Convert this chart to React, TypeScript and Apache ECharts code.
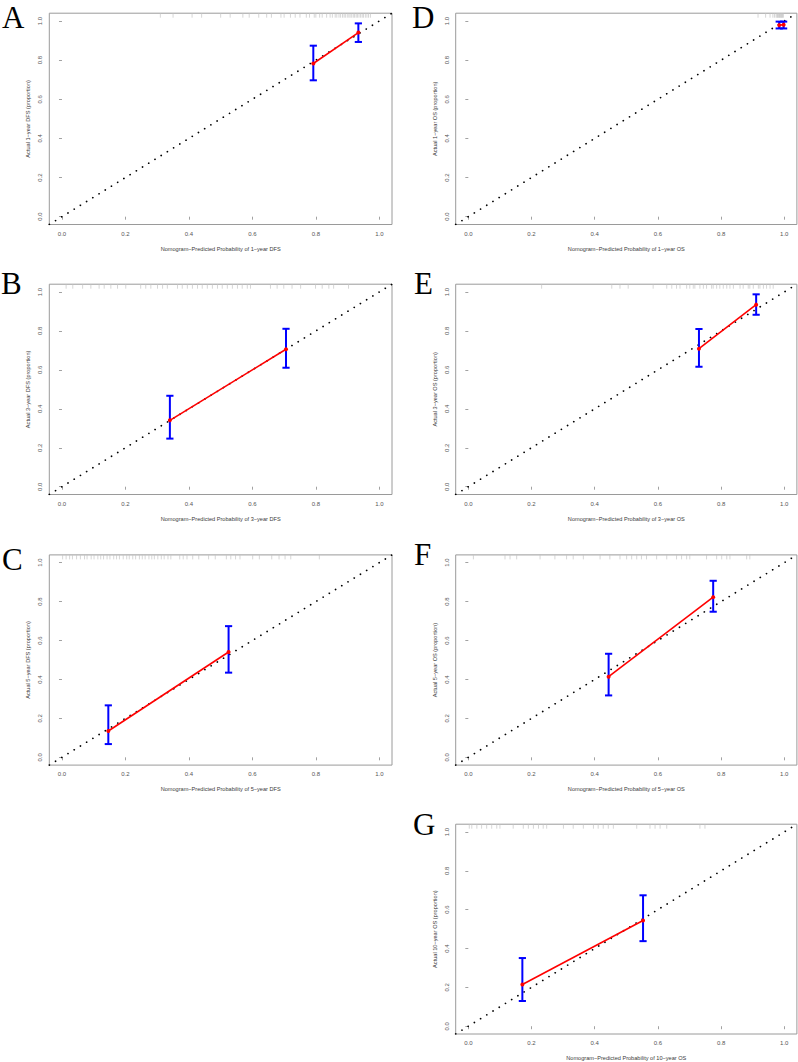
import React, { useEffect, useRef } from "react";
import * as echarts from "echarts";

// ---------- data ----------
const tickValues = [0, 0.2, 0.4, 0.6, 0.8, 1.0];
const axisMin = -0.04;
const axisMax = 1.04;

const panelLetters = ["A", "B", "C", "D", "E", "F", "G"];

const xTitles = [
  "Nomogram\u2212Predicted Probability of 1\u2212year DFS",
  "Nomogram\u2212Predicted Probability of 3\u2212year DFS",
  "Nomogram\u2212Predicted Probability of 5\u2212year DFS",
  "Nomogram\u2212Predicted Probability of 1\u2212year OS",
  "Nomogram\u2212Predicted Probability of 3\u2212year OS",
  "Nomogram\u2212Predicted Probability of 5\u2212year OS",
  "Nomogram\u2212Predicted Probability of 10\u2212year OS",
];

const yTitles = [
  "Actual 1\u2212year DFS (proportion)",
  "Actual 3\u2212year DFS (proportion)",
  "Actual 5\u2212year DFS (proportion)",
  "Actual 1\u2212year OS (proportion)",
  "Actual 3\u2212year OS (proportion)",
  "Actual 5\u2212year OS (proportion)",
  "Actual 10\u2212year OS (proportion)",
];

// predicted, observed, lower CI, upper CI
const predA = [0.792, 0.934];
const obsA = [0.783, 0.941];
const loA = [0.697, 0.893];
const hiA = [0.874, 0.988];

const predB = [0.34, 0.706];
const obsB = [0.341, 0.706];
const loB = [0.247, 0.611];
const hiB = [0.467, 0.811];

const predC = [0.146, 0.525];
const obsC = [0.135, 0.541];
const loC = [0.068, 0.435];
const hiC = [0.267, 0.674];

const predD = [0.984, 0.998];
const obsD = [0.979, 0.981];
const loD = [0.962, 0.962];
const hiD = [0.997, 0.997];

const predE = [0.73, 0.911];
const obsE = [0.709, 0.935];
const loE = [0.616, 0.883];
const hiE = [0.81, 0.988];

const predF = [0.444, 0.775];
const obsF = [0.414, 0.823];
const loF = [0.318, 0.748];
const hiF = [0.532, 0.907];

const predG = [0.171, 0.553];
const obsG = [0.215, 0.544];
const loG = [0.13, 0.438];
const hiG = [0.351, 0.674];

// rug of predicted values (top of each panel)
const rugA = [0.31, 0.35, 0.41, 0.44, 0.5, 0.53, 0.57, 0.59, 0.62, 0.645, 0.66, 0.69, 0.7, 0.72, 0.735, 0.75, 0.77, 0.78, 0.795, 0.8, 0.812, 0.82, 0.834, 0.845, 0.852, 0.861, 0.866, 0.873, 0.878, 0.884, 0.889, 0.893, 0.899, 0.904, 0.908, 0.913, 0.918, 0.922, 0.927, 0.931, 0.936, 0.941, 0.946, 0.95, 0.956, 0.961, 0.966, 0.972];
const rugB = [0.013, 0.034, 0.065, 0.091, 0.117, 0.133, 0.154, 0.175, 0.201, 0.248, 0.264, 0.28, 0.301, 0.317, 0.332, 0.364, 0.379, 0.395, 0.411, 0.427, 0.442, 0.458, 0.474, 0.49, 0.505, 0.521, 0.537, 0.553, 0.568, 0.584, 0.594, 0.657, 0.678, 0.699, 0.725, 0.752, 0.799, 0.82, 0.841, 0.856, 0.903];
const rugC = [0.002, 0.013, 0.024, 0.033, 0.046, 0.058, 0.071, 0.079, 0.092, 0.101, 0.113, 0.122, 0.131, 0.142, 0.151, 0.163, 0.172, 0.181, 0.193, 0.204, 0.212, 0.223, 0.232, 0.244, 0.253, 0.262, 0.274, 0.283, 0.291, 0.302, 0.313, 0.322, 0.334, 0.343, 0.371, 0.382, 0.394, 0.412, 0.431, 0.462, 0.483, 0.518, 0.532, 0.547, 0.561, 0.601, 0.622, 0.661, 0.684, 0.703, 0.721, 0.811];
const rugD = [0.917, 0.941, 0.955, 0.964, 0.969, 0.974, 0.977, 0.979, 0.981, 0.983, 0.985, 0.987, 0.989, 0.991, 0.993, 0.995, 0.997];
const rugE = [0.232, 0.454, 0.48, 0.506, 0.585, 0.628, 0.644, 0.659, 0.67, 0.691, 0.701, 0.712, 0.717, 0.733, 0.744, 0.754, 0.77, 0.775, 0.786, 0.796, 0.807, 0.818, 0.828, 0.839, 0.86, 0.87, 0.886, 0.891, 0.902, 0.918, 0.923, 0.934, 0.944, 0.955, 0.965];
const rugF = [0.016, 0.116, 0.132, 0.153, 0.227, 0.274, 0.311, 0.332, 0.364, 0.417, 0.448, 0.48, 0.501, 0.517, 0.533, 0.548, 0.564, 0.596, 0.628, 0.659, 0.675, 0.691, 0.701, 0.754, 0.786, 0.802, 0.818, 0.828, 0.881, 0.891];
const rugG = [0.003, 0.011, 0.027, 0.042, 0.058, 0.074, 0.09, 0.1, 0.142, 0.174, 0.19, 0.206, 0.222, 0.237, 0.248, 0.301, 0.332, 0.364, 0.396, 0.411, 0.427, 0.443, 0.459, 0.533, 0.575, 0.591, 0.607, 0.628, 0.733, 0.749];

// ---------- layout ----------
const W = 798;
const H = 1062;
const colLeft = [49.3, 455.7];
const colWidth = [342.7, 341.2];
const rowTop = [13.2, 284.2, 554.9, 824.2];
const rowHeight = [211.3, 210.3, 210.2, 210.9];

// lx: left of letter, ly: bottom of letter's text box
const panels = [
  { col: 0, row: 0, pred: predA, obs: obsA, lo: loA, hi: hiA, rug: rugA, lx: 2, ly: 32 },
  { col: 0, row: 1, pred: predB, obs: obsB, lo: loB, hi: hiB, rug: rugB, lx: 1, ly: 298 },
  { col: 0, row: 2, pred: predC, obs: obsC, lo: loC, hi: hiC, rug: rugC, lx: 2, ly: 574 },
  { col: 1, row: 0, pred: predD, obs: obsD, lo: loD, hi: hiD, rug: rugD, lx: 412, ly: 32 },
  { col: 1, row: 1, pred: predE, obs: obsE, lo: loE, hi: hiE, rug: rugE, lx: 414, ly: 298 },
  { col: 1, row: 2, pred: predF, obs: obsF, lo: loF, hi: hiF, rug: rugF, lx: 414, ly: 569 },
  { col: 1, row: 3, pred: predG, obs: obsG, lo: loG, hi: hiG, rug: rugG, lx: 413, ly: 839 },
];

const SANS = '"Liberation Sans", Arial, sans-serif';
const SERIF = '"Liberation Serif", "Times New Roman", serif';

function buildOption() {
  const grid: any[] = [];
  const xAxis: any[] = [];
  const yAxis: any[] = [];
  const series: any[] = [];
  const graphic: any[] = [];

  panels.forEach((p, i) => {
    grid.push({
      left: colLeft[p.col],
      top: rowTop[p.row],
      width: colWidth[p.col],
      height: rowHeight[p.row],
      show: true,
      borderColor: "#9a9a9a",
      borderWidth: 1,
      backgroundColor: "transparent",
      containLabel: false,
    });
    xAxis.push({
      gridIndex: i,
      type: "value",
      min: axisMin,
      max: axisMax,
      name: xTitles[i],
      nameLocation: "middle",
      nameGap: 21,
      nameTextStyle: { fontSize: 5.6, color: "#3a3a3a", fontFamily: SANS },
      axisLine: { show: false },
      axisTick: { show: true, length: 3, inside: false, customValues: tickValues, lineStyle: { color: "#8a8a8a", width: 0.8 } },
      axisLabel: {
        show: true,
        customValues: tickValues,
        formatter: (v: number) => v.toFixed(1),
        fontSize: 6,
        color: "#555",
        fontFamily: SANS,
        margin: 6,
      },
      splitLine: { show: false },
    });
    yAxis.push({
      gridIndex: i,
      type: "value",
      min: axisMin,
      max: axisMax,
      name: yTitles[i],
      nameLocation: "middle",
      nameRotate: 90,
      nameGap: 18,
      nameTextStyle: { fontSize: 5.6, color: "#3a3a3a", fontFamily: SANS },
      axisLine: { show: false },
      axisTick: { show: true, length: 3, inside: false, customValues: tickValues, lineStyle: { color: "#8a8a8a", width: 0.8 } },
      axisLabel: {
        show: true,
        customValues: tickValues,
        formatter: (v: number) => v.toFixed(1),
        fontSize: 6,
        color: "#555",
        fontFamily: SANS,
        rotate: 90,
        margin: 6,
      },
      splitLine: { show: false },
    });

    // rug marks
    series.push({
      type: "custom",
      xAxisIndex: i,
      yAxisIndex: i,
      silent: true,
      data: p.rug.map((v) => [v, axisMax]),
      encode: { x: 0, y: 1 },
      renderItem: (params: any, api: any) => {
        const c = api.coord([api.value(0), api.value(1)]);
        return {
          type: "line",
          shape: { x1: c[0], y1: c[1], x2: c[0], y2: c[1] + 4.5 },
          style: { stroke: "#c4c4c4", lineWidth: 0.7 },
        };
      },
      z: 1,
    });

    // ideal diagonal
    series.push({
      type: "line",
      xAxisIndex: i,
      yAxisIndex: i,
      silent: true,
      data: [
        [axisMin, axisMin],
        [axisMax, axisMax],
      ],
      symbol: "none",
      clip: true,
      lineStyle: { color: "#000", width: 1.7, type: [0.1, 7.2], cap: "round" },
      z: 2,
    });

    // error bars
    series.push({
      type: "custom",
      xAxisIndex: i,
      yAxisIndex: i,
      silent: true,
      data: p.pred.map((x, k) => [x, p.lo[k], p.hi[k]]),
      encode: { x: 0, y: [1, 2] },
      renderItem: (params: any, api: any) => {
        const x = api.value(0);
        const a = api.coord([x, api.value(1)]);
        const b = api.coord([x, api.value(2)]);
        const w = 3.6;
        const st = { stroke: "#0000ff", lineWidth: 2 };
        return {
          type: "group",
          children: [
            { type: "line", shape: { x1: a[0], y1: a[1], x2: b[0], y2: b[1] }, style: st },
            { type: "line", shape: { x1: a[0] - w, y1: a[1], x2: a[0] + w, y2: a[1] }, style: st },
            { type: "line", shape: { x1: b[0] - w, y1: b[1], x2: b[0] + w, y2: b[1] }, style: st },
          ],
        };
      },
      z: 3,
    });

    // calibration line
    series.push({
      type: "line",
      xAxisIndex: i,
      yAxisIndex: i,
      silent: true,
      data: p.pred.map((x, k) => [x, p.obs[k]]),
      symbol: "circle",
      symbolSize: 4,
      showSymbol: true,
      itemStyle: { color: "#ff0000" },
      lineStyle: { color: "#ff0000", width: 1.6 },
      z: 4,
    });

    graphic.push({
      type: "text",
      x: p.lx,
      y: p.ly,
      style: {
        text: panelLetters[i],
        font: `31px ${SERIF}`,
        lineHeight: 30,
        fill: "#000",
        verticalAlign: "bottom",
        align: "left",
      },
    });
  });

  return {
    animation: false,
    backgroundColor: "#fff",
    grid,
    xAxis,
    yAxis,
    series,
    graphic,
  };
}

export default function App() {
  const ref = useRef<HTMLDivElement>(null);
  useEffect(() => {
    document.body.style.margin = "0";
    if (!ref.current) return;
    const chart = echarts.init(ref.current, undefined, { renderer: "svg", width: W, height: H });
    chart.setOption(buildOption());
    return () => chart.dispose();
  }, []);
  return <div ref={ref} style={{ width: W, height: H }} />;
}
